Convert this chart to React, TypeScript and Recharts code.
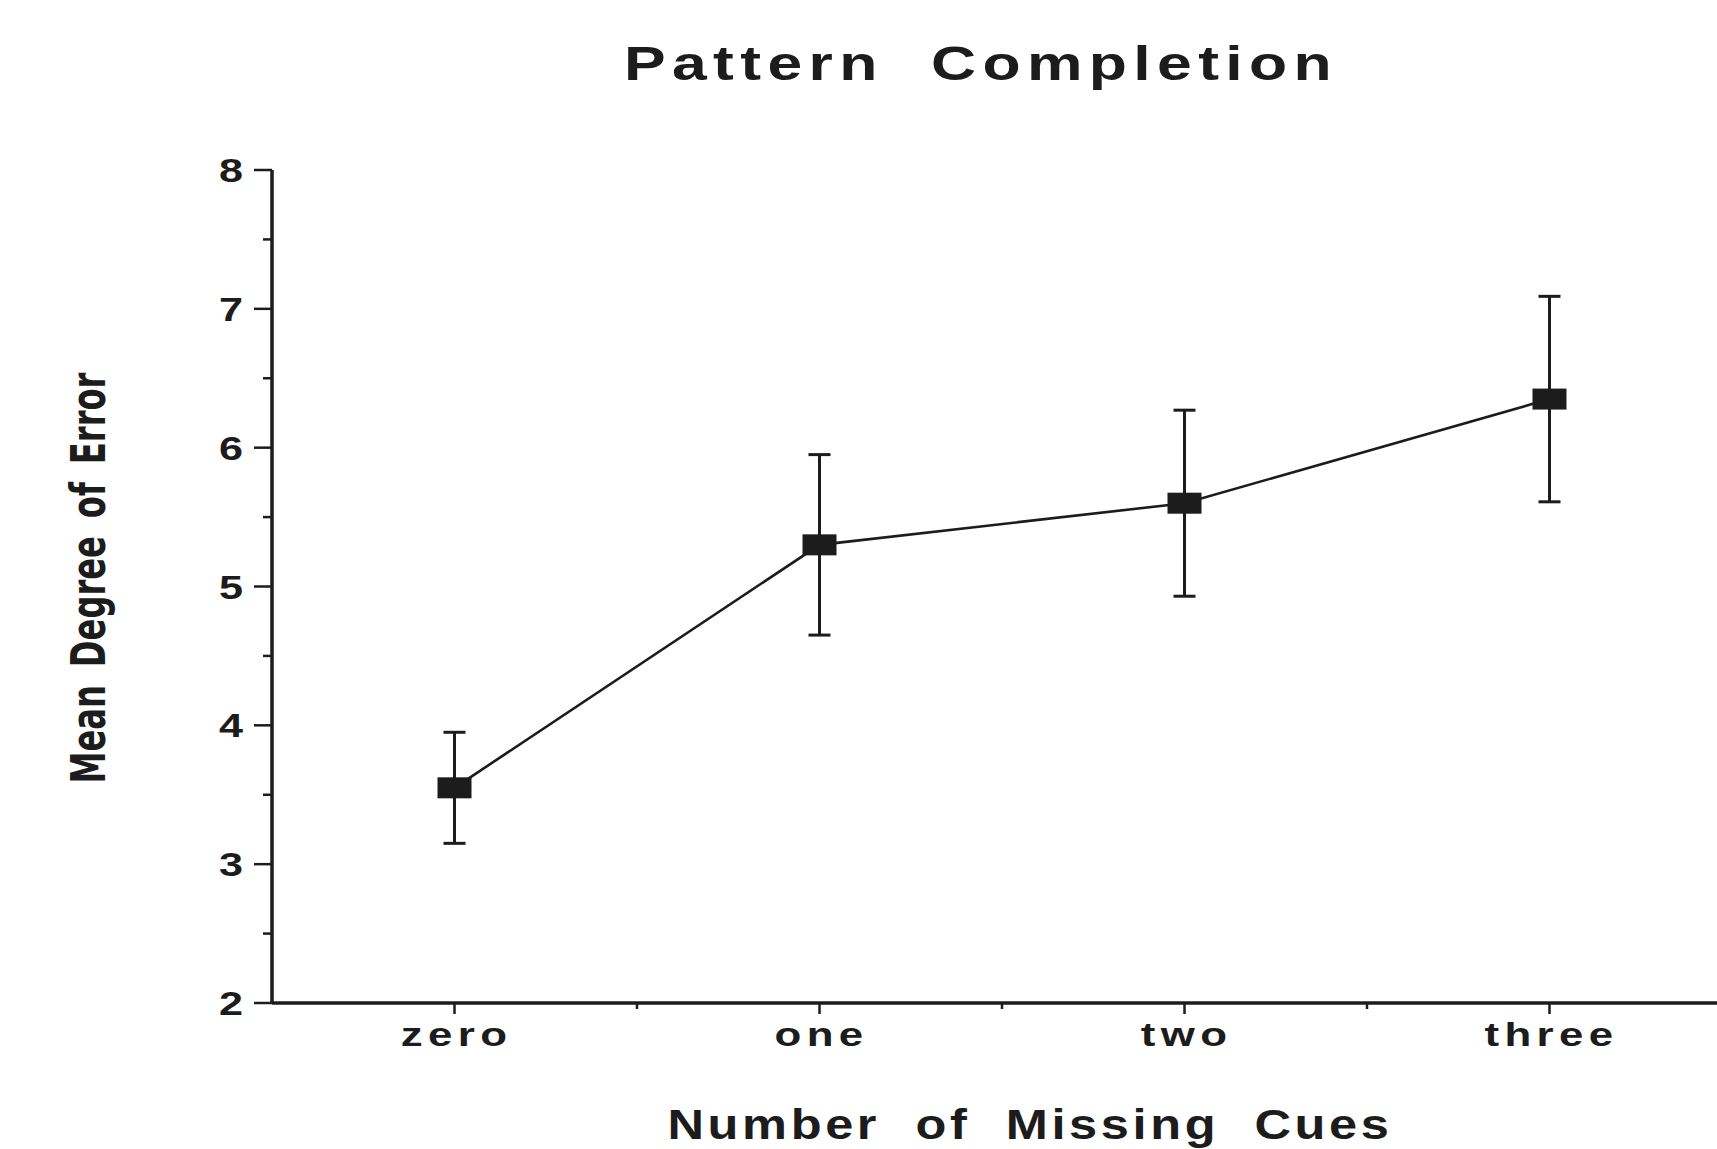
import React from "react";
import { LineChart, Line, XAxis, YAxis, ErrorBar, Customized } from "recharts";

// values
const categories = ["zero", "one", "two", "three"];
const meanError = [3.55, 5.3, 5.6, 6.35];
const errorRange = [0.4, 0.65, 0.67, 0.74];
const xTicks = [0, 0.5, 1, 1.5, 2, 2.5, 3];
const yTicks = [2, 2.5, 3, 3.5, 4, 4.5, 5, 5.5, 6, 6.5, 7, 7.5, 8];

const data = categories.map((name, i) => ({
  pos: i,
  name,
  mean: meanError[i],
  err: errorRange[i],
}));

const INK = "#1c1c1c";
const HELV = "'Liberation Sans', Arial, Helvetica, sans-serif";
const NARROW = "'Liberation Sans Narrow', 'DejaVu Sans Condensed', sans-serif";

const XTick = (props: any) => {
  const { x, y, payload } = props;
  const axisY = y - 10;
  const v = payload.value;
  const major = Number.isInteger(v);
  return (
    <g>
      <line x1={x} x2={x} y1={axisY} y2={axisY + (major ? 11 : 6)} stroke={INK} strokeWidth={2.5} />
      {major && (
        // the scan uses a wide face, so the label is stretched sideways
        <text
          transform={`translate(${x + 2} ${axisY + 43}) scale(1.33 1)`}
          textAnchor="middle"
          fontFamily={HELV}
          fontWeight="bold"
          fontSize={33}
          letterSpacing={4}
          fill={INK}
        >
          {categories[v]}
        </text>
      )}
    </g>
  );
};

const YTick = (props: any) => {
  const { x, y, payload } = props;
  const axisX = x + 29;
  const major = Number.isInteger(payload.value);
  return (
    <g>
      <line x1={axisX - (major ? 18 : 9)} x2={axisX} y1={y} y2={y} stroke={INK} strokeWidth={2.5} />
      {major && (
        <text
          x={axisX - 29}
          y={y + 12}
          textAnchor="end"
          fontFamily={HELV}
          fontWeight="bold"
          fontSize={33}
          textLength={24}
          lengthAdjust="spacingAndGlyphs"
          fill={INK}
        >
          {payload.value}
        </text>
      )}
    </g>
  );
};

const SquareDot = (props: any) => {
  const { cx, cy, index } = props;
  return <rect key={`sq-${index}`} x={cx - 17} y={cy - 10.5} width={34} height={21} fill={INK} />;
};

const Titles = () => (
  <g fill={INK}>
    <text
      x={981}
      y={80}
      textAnchor="middle"
      fontFamily={HELV}
      fontWeight="bold"
      fontSize={49}
      letterSpacing={5}
      textLength={714}
      lengthAdjust="spacingAndGlyphs"
      style={{ whiteSpace: "pre" }}
    >
      {"Pattern  Completion"}
    </text>
    <text
      x={1030}
      y={1139}
      textAnchor="middle"
      fontFamily={HELV}
      fontWeight="bold"
      fontSize={42}
      letterSpacing={3}
      textLength={725}
      lengthAdjust="spacingAndGlyphs"
      style={{ whiteSpace: "pre" }}
    >
      {"Number  of  Missing  Cues"}
    </text>
    <text
      x={105}
      y={578}
      transform="rotate(-90 105 578)"
      textAnchor="middle"
      fontFamily={NARROW}
      fontWeight="bold"
      fontSize={48}
      wordSpacing={9}
      textLength={411}
      lengthAdjust="spacingAndGlyphs"
    >
      Mean Degree of Error
    </text>
  </g>
);

export default function App() {
  return (
    <div
      style={{
        position: "absolute",
        left: 0,
        top: 0,
        width: 1717,
        height: 1149,
        overflow: "hidden",
        background: "#fff",
      }}
    >
      <LineChart width={1752} height={1149} data={data} margin={{ top: 170, right: 20, left: 0, bottom: 0 }}>
        <XAxis
          type="number"
          dataKey="pos"
          domain={[-0.5, 3.5]}
          ticks={xTicks}
          interval={0}
          tick={<XTick />}
          tickLine={false}
          tickSize={10}
          tickMargin={0}
          height={146}
          axisLine={{ stroke: INK, strokeWidth: 3.5 }}
          allowDataOverflow
        />
        <YAxis
          type="number"
          domain={[2, 8]}
          ticks={yTicks}
          interval={0}
          tick={<YTick />}
          tickLine={false}
          tickSize={18}
          tickMargin={11}
          width={272}
          axisLine={{ stroke: INK, strokeWidth: 3.5 }}
          allowDataOverflow
        />
        <Line
          type="linear"
          dataKey="mean"
          stroke={INK}
          strokeWidth={2.6}
          dot={SquareDot}
          activeDot={false}
          isAnimationActive={false}
        >
          <ErrorBar dataKey="err" width={11} strokeWidth={3} stroke={INK} direction="y" />
        </Line>
        <Customized component={Titles} />
      </LineChart>
    </div>
  );
}
